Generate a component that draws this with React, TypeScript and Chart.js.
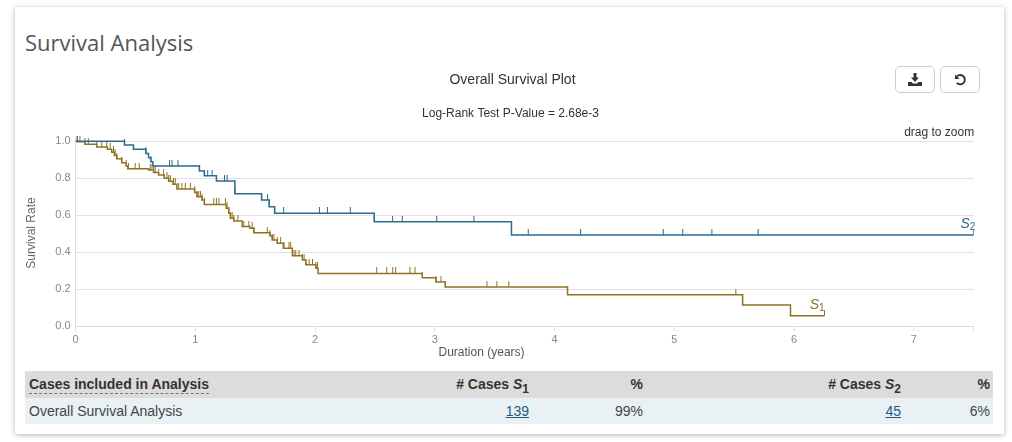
import React, { useEffect, useRef } from "react";
import { Chart, registerables } from "chart.js";

Chart.register(...registerables);

const s2Times = [0, 0.408, 0.483, 0.587, 0.609, 0.628, 0.645, 1.034, 1.075, 1.176, 1.33, 1.553, 1.617, 1.662, 2.494, 3.64, 7.5];
const s2Survival = [1, 0.98, 0.957, 0.935, 0.912, 0.89, 0.867, 0.84, 0.814, 0.786, 0.717, 0.683, 0.647, 0.611, 0.566, 0.494, 0.494];
const s2Censored = [0.014, 0.408, 0.587, 0.628, 0.785, 0.805, 0.855, 1.034, 1.075, 1.103, 1.14, 1.176, 1.243, 1.265, 1.33, 1.553, 1.603, 1.617, 1.662, 1.737, 2.036, 2.103, 2.294, 2.494, 2.647, 2.728, 3.015, 3.326, 3.64, 3.78, 4.217, 4.907, 5.07, 5.313, 5.7, 7.497];

const s1Times = [0, 0.014, 0.078, 0.176, 0.265, 0.302, 0.324, 0.344, 0.385, 0.422, 0.436, 0.609, 0.651, 0.693, 0.74, 0.777, 0.813, 0.846, 0.994, 1.014, 1.056, 1.075, 1.257, 1.279, 1.293, 1.321, 1.391, 1.455, 1.489, 1.623, 1.642, 1.684, 1.735, 1.81, 1.894, 1.922, 2.006, 2.025, 2.895, 3.009, 3.087, 4.108, 5.57, 5.97, 6.254];
const s1Survival = [1, 0.998, 0.985, 0.969, 0.958, 0.941, 0.924, 0.906, 0.885, 0.867, 0.852, 0.845, 0.832, 0.818, 0.8, 0.784, 0.768, 0.742, 0.724, 0.7, 0.683, 0.659, 0.638, 0.611, 0.584, 0.569, 0.539, 0.53, 0.506, 0.49, 0.467, 0.449, 0.422, 0.382, 0.359, 0.333, 0.314, 0.286, 0.263, 0.24, 0.2125, 0.171, 0.115, 0.057, 0.057];
const s1Censored = [0.014, 0.036, 0.078, 0.106, 0.176, 0.218, 0.26, 0.288, 0.316, 0.33, 0.344, 0.385, 0.422, 0.441, 0.497, 0.531, 0.623, 0.637, 0.651, 0.665, 0.693, 0.735, 0.763, 0.777, 0.791, 0.818, 0.832, 0.86, 0.888, 0.916, 0.958, 0.994, 1.014, 1.028, 1.042, 1.056, 1.075, 1.154, 1.176, 1.196, 1.251, 1.265, 1.279, 1.293, 1.307, 1.321, 1.355, 1.405, 1.447, 1.475, 1.489, 1.601, 1.623, 1.642, 1.656, 1.684, 1.712, 1.74, 1.782, 1.796, 1.824, 1.838, 1.866, 1.894, 1.908, 1.922, 1.95, 1.978, 2.006, 2.02, 2.514, 2.598, 2.648, 2.673, 2.792, 2.834, 2.895, 3.009, 3.051, 3.087, 3.435, 3.518, 3.618, 4.108, 5.513, 5.57, 5.97, 6.254];

const yTicks = [0, 0.2, 0.4, 0.6, 0.8, 1.0];
const S1_COLOR = "#8f7325";
const S2_COLOR = "#2a6a8f";
const FONT = '"Liberation Sans", Arial, sans-serif';

function stepValue(t: number, times: number[], values: number[]) {
  let v = values[0];
  for (let i = 0; i < times.length; i++) if (times[i] <= t) v = values[i];
  return v;
}

function censorMark(color: string) {
  const c = document.createElement("canvas");
  c.width = 3;
  c.height = 12;
  const g = c.getContext("2d")!;
  g.fillStyle = color;
  g.fillRect(1, 0, 1, 6);
  return c;
}

const annotations = {
  id: "annotations",
  afterDraw(chart: any) {
    const { ctx, scales, canvas } = chart;
    const x = scales.x;
    const y = scales.y;
    const label = (name: string, sub: string, px: number, py: number, color: string) => {
      ctx.save();
      ctx.fillStyle = color;
      ctx.textBaseline = "alphabetic";
      ctx.textAlign = "left";
      ctx.font = `italic 14px ${FONT}`;
      ctx.fillText(name, px, py);
      const w = ctx.measureText(name).width;
      ctx.font = `10px ${FONT}`;
      ctx.fillText(sub, px + w, py + 1.5);
      ctx.restore();
    };
    label("S", "1", x.getPixelForValue(6.13), y.getPixelForValue(0.092), S1_COLOR);
    label("S", "2", x.getPixelForValue(7.39), y.getPixelForValue(0.53), S2_COLOR);
    ctx.save();
    ctx.textBaseline = "middle";
    ctx.font = `12px ${FONT}`;
    ctx.fillStyle = "#333";
    ctx.textAlign = "right";
    ctx.fillText("drag to zoom", x.right + 0.5, y.top - 3.5);
    ctx.textAlign = "center";
    ctx.fillText("Log-Rank Test P-Value = 2.68e-3", canvas.width / 2 - 1.5, 48);
    ctx.font = `14px ${FONT}`;
    ctx.fillText("Overall Survival Plot", canvas.width / 2 + 0.5, 14.5);
    ctx.font = `12px ${FONT}`;
    ctx.fillStyle = "#555";
    ctx.fillText("Duration (years)", x.getPixelForValue(3.39), y.bottom + 26);
    ctx.translate(17, y.getPixelForValue(0.51) + 1);
    ctx.rotate(-Math.PI / 2);
    ctx.fillStyle = "#666";
    ctx.fillText("Survival Rate", 0, 0);
    ctx.restore();
  },
};

export default function App() {
  const ref = useRef<HTMLCanvasElement>(null);
  useEffect(() => {
    const toPoints = (xs: number[], ys: number[]) => xs.map((x, i) => ({ x, y: ys[i] }));
    const toCensor = (cs: number[], xs: number[], ys: number[]) => cs.map((x) => ({ x, y: stepValue(x, xs, ys) }));
    const chart = new Chart(ref.current!, {
      type: "scatter",
      plugins: [annotations],
      data: {
        datasets: [
          { label: "S2", data: toPoints(s2Times, s2Survival), showLine: true, stepped: true, borderColor: S2_COLOR, borderWidth: 1.5, pointRadius: 0 },
          { label: "S2 censored", data: toCensor(s2Censored, s2Times, s2Survival), showLine: false, pointStyle: censorMark(S2_COLOR), pointRadius: 5 },
          { label: "S1", data: toPoints(s1Times, s1Survival), showLine: true, stepped: true, borderColor: S1_COLOR, borderWidth: 1.5, pointRadius: 0 },
          { label: "S1 censored", data: toCensor(s1Censored, s1Times, s1Survival), showLine: false, pointStyle: censorMark(S1_COLOR), pointRadius: 5 },
        ] as any,
      },
      options: {
        animation: false,
        responsive: false,
        events: [],
        layout: { padding: { left: 0, right: 35.3, top: 70, bottom: 0 } },
        plugins: {
          legend: { display: false },
          tooltip: { enabled: false },
        },
        scales: {
          x: {
            type: "linear",
            min: 0,
            max: 7.5,
            ticks: { stepSize: 1, maxRotation: 0, padding: 2, color: "#888", font: { family: FONT, size: 11 }, callback: (v: any) => (Number.isInteger(v) ? String(v) : "") },
            grid: { drawOnChartArea: false, drawTicks: true, tickLength: 5, color: "#ddd" },
            border: { color: "#ddd" },
            afterFit: (s: any) => { s.height = 35.7; },
          },
          y: {
            type: "linear",
            min: 0,
            max: 1.029,
            ticks: { stepSize: 0.2, padding: 5, color: "#888", font: { family: FONT, size: 11 }, callback: (v: any) => Number(v).toFixed(1) },
            grid: { drawTicks: false, color: "#e6dee2" },
            border: { color: "#ddd" },
            afterBuildTicks: (s: any) => { s.ticks = yTicks.map((value) => ({ value })); },
            afterFit: (s: any) => { s.width = 60.6; },
          },
        },
      } as any,
    });
    return () => chart.destroy();
  }, []);

  const th: React.CSSProperties = { textAlign: "right", padding: "0 4px 2px", fontWeight: "bold", fontSize: 14 };
  const td: React.CSSProperties = { textAlign: "right", padding: "0 4px", fontSize: 14, color: "#444" };
  const link: React.CSSProperties = { color: "#1c5a84", textDecoration: "underline" };
  const sub: React.CSSProperties = { fontSize: 12, lineHeight: 0 };
  const btn: React.CSSProperties = { position: "absolute", top: 66, width: 40, height: 27, boxSizing: "border-box", border: "1px solid #ccc", borderRadius: 5, background: "#fff", display: "flex", alignItems: "center", justifyContent: "center" };

  return (
    <div style={{ position: "absolute", left: 0, top: 0, width: 1012, height: 442, overflow: "hidden", background: "#fff", fontFamily: FONT, color: "#333" }}>
      <div style={{ position: "absolute", left: 15, top: 7, width: 989, height: 427, background: "#fff", boxShadow: "0 1px 5px rgba(0,0,0,0.3)" }} />
      <div style={{ position: "absolute", left: 25, top: 28, fontFamily: '"Open Sans", sans-serif', fontSize: 22, color: "#555", lineHeight: "28px", whiteSpace: "nowrap" }}>Survival Analysis</div>
      <canvas ref={ref} width={994} height={296} style={{ position: "absolute", left: 15, top: 66, width: 994, height: 296 }} />
      <div style={{ ...btn, left: 895 }}>
        <svg width="14" height="13" viewBox="0 0 14 13"><path d="M5.5 0h3v4.5h2.5L7 9 3 4.5h2.5zM0 9h3.5l1.5 1.5h4L10.5 9H14v4H0z" fill="#333" /></svg>
      </div>
      <div style={{ ...btn, left: 940 }}>
        <svg width="13" height="13" viewBox="0 0 14 14"><path d="M3.2 3.6A5 5 0 1 1 3 10.6" fill="none" stroke="#333" strokeWidth="2" /><path d="M1 1.5v5h5z" fill="#333" /></svg>
      </div>
      <table style={{ position: "absolute", left: 25, top: 371, width: 968, tableLayout: "fixed", borderCollapse: "collapse", color: "#333" }}>
        <colgroup>
          <col style={{ width: 350 }} />
          <col style={{ width: 158 }} />
          <col style={{ width: 114 }} />
          <col style={{ width: 258 }} />
          <col style={{ width: 88 }} />
        </colgroup>
        <tbody>
          <tr style={{ height: 27, background: "#dcdcdc" }}>
            <td style={{ ...th, textAlign: "left" }}><span style={{ borderBottom: "1px dashed #777", paddingBottom: 1 }}>Cases included in Analysis</span></td>
            <td style={th}># Cases <i>S</i><sub style={sub}>1</sub></td>
            <td style={th}>%</td>
            <td style={th}># Cases <i>S</i><sub style={sub}>2</sub></td>
            <td style={{ ...th, paddingRight: 3 }}>%</td>
          </tr>
          <tr style={{ height: 26, background: "#e9f1f5" }}>
            <td style={{ ...td, textAlign: "left" }}>Overall Survival Analysis</td>
            <td style={td}><span style={link}>139</span></td>
            <td style={td}>99%</td>
            <td style={td}><span style={link}>45</span></td>
            <td style={{ ...td, paddingRight: 3 }}>6%</td>
          </tr>
        </tbody>
      </table>
    </div>
  );
}
